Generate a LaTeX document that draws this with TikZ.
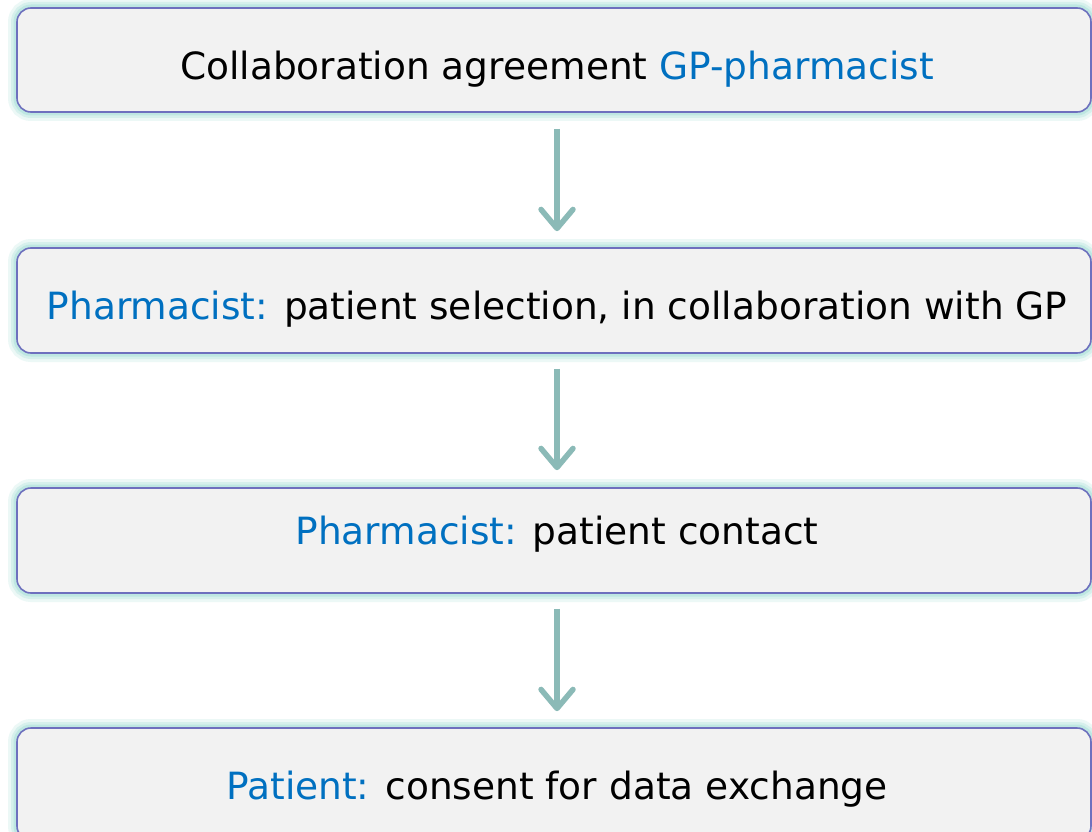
\documentclass[tikz,border=0pt]{standalone}
\usepackage{fontspec}
\setmainfont{DejaVu Sans}
\usetikzlibrary{arrows.meta}
\definecolor{boxfill}{HTML}{F2F2F2}
\definecolor{boxline}{HTML}{6E70BE}
\definecolor{glowc}{HTML}{B5E4DF}
\definecolor{arrowc}{HTML}{8BBAB7}
\definecolor{hl}{HTML}{0070C0}
\tikzset{
  stepbox/.style={draw=boxline, line width=1.6pt, fill=boxfill, rounded corners=14pt,
    minimum width=1074pt, minimum height=104pt, inner sep=0pt,
    preaction={draw=glowc, line width=18pt, opacity=0.25},
    preaction={draw=glowc, line width=12pt, opacity=0.4},
    preaction={draw=glowc, line width=7pt, opacity=0.7}},
  steptext/.style={anchor=base, inner sep=0pt, font=\fontsize{37.5}{44}\selectfont},
  flow/.style={draw=arrowc, line width=5.5pt,
    -{Straight Barb[length=19pt, width=32pt, line cap=round, line join=round]}}
}
\begin{document}
\begin{tikzpicture}[x=1pt, y=-1pt]
\useasboundingbox (0,0) rectangle (1092,832);
\clip (0,0) rectangle (1092,832);
\fill[white] (0,0) rectangle (1092,832);
\node[stepbox] (b1) at (554,60) {};
\node[stepbox, minimum height=105pt] (b2) at (554,300.5) {};
\node[stepbox, minimum height=105pt] (b3) at (554,540.5) {};
\node[stepbox, minimum height=112pt] (b4) at (554,784) {};
\node[steptext] (t1) at (557,80) {Collaboration agreement \textcolor{hl}{GP-pharmacist}};
\node[steptext] (t2) at (557,319) {\textcolor{hl}{Pharmacist:} patient selection, in collaboration with GP};
\node[steptext] (t3) at (557,544) {\textcolor{hl}{Pharmacist:} patient contact};
\node[steptext] (t4) at (557,799) {\textcolor{hl}{Patient:} consent for data exchange};
\draw[flow] ([xshift=3pt]b1.south) ++(0,16) -- ([xshift=3pt,yshift=16pt]b2.north);
\draw[flow] ([xshift=3pt]b2.south) ++(0,15) -- ([xshift=3pt,yshift=17pt]b3.north);
\draw[flow] ([xshift=3pt]b3.south) ++(0,15) -- ([xshift=3pt,yshift=16pt]b4.north);
\end{tikzpicture}
\end{document}
